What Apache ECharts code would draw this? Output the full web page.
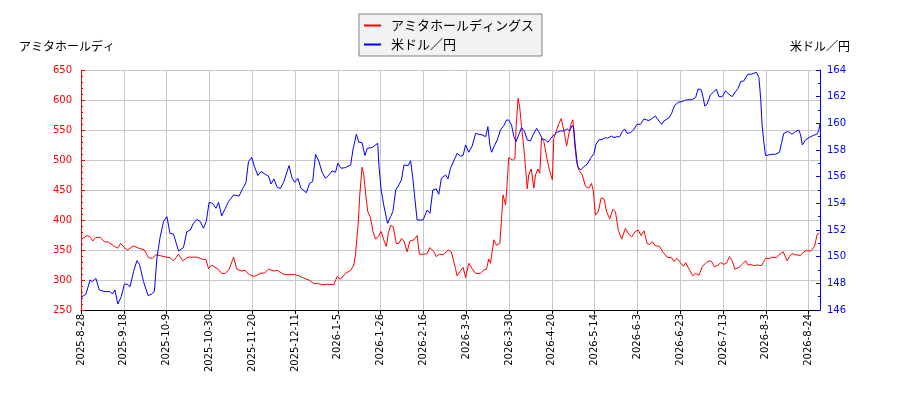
<!DOCTYPE html>
<html>
<head>
<meta charset="utf-8">
<script src="https://cdn.jsdelivr.net/npm/echarts@6/dist/echarts.min.js"></script>
<style>
  html, body { margin: 0; padding: 0; background: #fff; }
  #main { width: 900px; height: 400px; }
</style>
</head>
<body>
<div id="main"></div>
<script>
// x = trading-day index from 2025-8-28, one tick label every 15 trading days
const xTickLabels = ['2025-8-28', '2025-9-18', '2025-10-9', '2025-10-30', '2025-11-20', '2025-12-11',
    '2026-1-5', '2026-1-26', '2026-2-16', '2026-3-9', '2026-3-30', '2026-4-20', '2026-5-14',
    '2026-6-3', '2026-6-23', '2026-7-13', '2026-8-3', '2026-8-24']

const stockIdx = [0, 0.9, 2.1, 3.2, 4.1, 5.2, 6.7, 8.2, 9.7, 11.4, 12.9, 13.9, 15.2, 16.3, 18.4, 20.2, 22.2, 23.7, 25.0, 26.2,
    28.3, 30.1, 31.2, 32.4, 34.2, 35.6, 37.5, 40.6, 42.3, 43.8, 44.7, 45.8, 48.0, 49.3, 50.6, 51.9, 53.5, 54.6, 56.3, 57.6,
    58.9, 60.8, 62.8, 64.4, 65.7,
    66.4, 67.6, 68.8, 70.5, 71.6, 74.9, 76.4, 78.1, 79.9, 81.6, 83.2, 84.5, 86.3, 88.6, 89.8, 90.9, 92.7, 94.5, 95.6, 96.2,
    97.2, 97.7, 98.5, 99.1, 99.7, 100.5, 101.5, 102.3, 103.2, 104.4, 105.2, 106.1, 107.0, 107.7, 108.5, 109.4, 110.5, 111.4, 112.3, 113.2,
    114.3, 115.3, 116.7, 117.8, 118.6, 120.2, 121.3, 122.3, 123.7, 124.5, 125.6, 126.9, 128.7, 129.8, 131.3,
    131.8, 132.8, 133.9, 134.8, 135.9, 137.1, 138.3, 140.0, 141.2, 142.1, 142.9, 143.5, 144.1, 144.7, 145.6, 146.8, 147.4, 147.9, 148.8, 149.4,
    149.9, 151.2, 152.1, 152.5, 153.2, 153.8, 154.4, 154.9, 155.4, 155.8, 156.4, 156.9, 157.8, 158.7, 159.3, 160.1, 160.8, 161.4, 162.2, 163.4,
    164.3, 165.2, 165.7, 166.7, 167.5, 168.3, 169.2, 170.2, 171.0, 171.8, 172.4, 173.0, 173.7, 174.5, 175.7, 176.8, 178.0, 178.9, 179.5, 180.3,
    181.3, 182.3, 183.3, 184.2, 185.3, 186.4, 187.3, 188.3, 189.5, 190.8, 192.0, 193.0, 194.3, 195.3,
    196.3, 197.3, 198.4, 199.3, 200.2, 201.3, 202.8, 203.9, 205.4, 207.0, 207.8, 208.9, 210.1, 211.1, 211.9, 213.1, 214.4, 215.4, 216.6, 217.7,
    218.9, 220.1, 221.0, 222.0, 223.3, 224.2, 225.3, 226.2, 227.3, 228.2, 229.2, 230.6, 231.7, 232.9, 233.8, 234.7, 235.8, 237.0, 238.5, 239.9,
    241.1, 242.5, 243.7, 244.6, 246.1, 247.5, 248.3, 249.2, 250.4, 252.2, 253.3, 254.5, 255.7, 257.1, 258.0, 258.8]
const stockPrice = [368, 370, 374, 372, 365, 371, 371, 364, 363, 357, 353, 361, 354, 350, 357, 353, 350, 337, 336, 342,
    340, 338, 337, 332, 343, 332, 338, 338, 335, 334, 319, 325, 318, 311, 311, 318, 338, 318, 315, 316,
    309, 306, 311, 312, 318,
    319, 315, 316, 311, 309, 309, 307, 303, 300, 294, 294, 292, 293, 292, 306, 301, 311, 316, 325, 342,
    397, 442, 488, 475, 447, 414, 403, 381, 368, 374, 381, 367, 356, 378, 391, 389, 361, 361, 369, 365,
    347, 365, 367, 374, 343, 343, 344, 354, 347, 339, 343, 342, 350, 347, 318,
    307, 314, 321, 304, 328, 319, 311, 311, 317, 318, 335, 328, 347, 367, 358, 361, 403, 442, 425, 464,
    504, 500, 503, 556, 603, 586, 556, 558, 511, 486, 452, 475, 485, 453, 475, 485, 478, 536, 531, 500,
    481, 467, 536, 550, 561, 569, 550, 523, 544, 561, 567, 528, 497, 483, 475, 456, 453, 461, 450, 408,
    414, 437, 435, 414, 402, 418, 414, 383, 368, 386, 376, 372, 381, 383,
    374, 382, 361, 359, 364, 357, 356, 347, 338, 337, 331, 336, 329, 323, 329, 318, 307, 311, 308, 322,
    328, 332, 331, 322, 325, 329, 326, 328, 339, 332, 318, 321, 326, 332, 325, 326, 324, 325, 324, 336,
    336, 338, 337, 342, 347, 332, 339, 344, 342, 341, 347, 349, 348, 356, 376, 378]

const usdIdx = [0, 1.7, 3.2, 4.0, 5.2, 6.4, 8.4, 10.2, 11.0, 11.9, 12.9, 14.1, 15.2, 16.1, 17.2, 18.4, 19.6, 20.5, 21.9, 23.5,
    24.6, 25.7, 26.6, 27.7, 28.9, 30.1, 31.2, 32.4, 34.2, 35.9, 37.1, 38.3, 39.4, 40.6, 41.8, 42.9, 43.9, 44.9, 46.1, 47.3,
    48.2, 49.3, 50.6, 51.7, 53.5, 55.4, 56.6, 57.8, 58.7, 59.8, 60.8, 62.0, 63.1, 64.6, 65.7,
    66.6, 67.6, 68.8, 69.9, 71.1, 72.3, 72.9, 74.0, 74.9, 76.0, 77.1, 79.0, 80.1, 81.2, 82.2, 83.4, 84.5, 85.7, 86.9, 88.0,
    89.2, 90.0, 91.2, 92.7, 94.5, 95.3, 96.5, 97.4, 98.5, 99.5, 100.3, 102.0, 103.2, 104.0, 104.4, 105.2, 106.1, 107.1, 107.5, 108.5,
    109.3, 110.3, 111.4, 112.3, 113.2, 113.8, 114.7, 115.5, 116.3, 117.0, 117.8, 119.0, 119.9, 121.3, 122.3, 123.3, 124.5, 125.4, 126.3, 127.8,
    128.6, 129.5, 131.3,
    131.8, 133.0, 133.9, 134.8, 135.9, 137.1, 138.3, 139.4, 140.6, 141.8, 142.6, 143.3, 143.9, 144.7, 145.9, 147.0, 148.2, 149.1, 149.9, 150.9,
    151.7, 152.5, 153.4, 154.4, 155.4, 156.4, 157.5, 158.7, 159.7, 160.4, 161.7, 162.8, 163.7, 164.5, 165.7, 166.9, 168.0, 169.2, 170.4, 171.2,
    172.2, 172.7, 173.1, 173.7, 174.1, 175.1, 176.2, 177.4, 178.6, 179.8, 180.5, 181.5, 182.7, 183.8, 184.6, 185.9, 186.8, 187.9, 188.8, 189.7,
    190.5, 191.4, 192.6, 193.6, 194.9, 196.1,
    197.3, 199.0, 200.2, 201.3, 202.3, 203.5, 204.3, 206.1, 207.0, 208.0, 209.3, 210.7, 211.9, 214.2, 215.4, 216.3, 217.4, 218.1, 218.6, 219.4,
    220.6, 221.8, 222.7, 223.6, 224.7, 225.9, 227.1, 228.2, 229.4, 230.3, 231.2, 232.3, 232.9, 233.7, 234.7, 235.8, 236.7, 237.6, 238.2, 238.7,
    239.3, 239.9, 241.1, 242.2, 243.4, 244.8, 245.5, 246.3, 247.5, 248.3, 249.2, 250.4, 251.6, 252.2, 252.8, 253.9, 255.1, 256.5, 258.0, 258.6,
    259]
const usdRate = [146.95, 147.18, 148.25, 148.13, 148.38, 147.5, 147.38, 147.38, 147.2, 147.5, 146.45, 147.0, 147.93, 147.95, 147.75, 148.88, 149.7, 149.43, 148.13, 147.08,
    147.18, 147.38, 149.88, 151.43, 152.63, 153.0, 151.75, 151.7, 150.43, 150.68, 151.88, 152.0, 152.5, 152.8, 152.63, 152.13, 152.63, 154.08, 154.0, 153.63,
    154.08, 153.05, 153.63, 154.13, 154.63, 154.55, 155.08, 155.55, 157.13, 157.45, 156.75, 156.08, 156.38, 156.18, 156.05,
    155.45, 155.83, 155.18, 155.13, 155.63, 156.43, 156.83, 155.88, 155.58, 155.88, 155.13, 154.8, 155.5, 155.63, 157.68, 157.13, 156.33, 155.88, 156.13, 156.43,
    156.33, 157.0, 156.63, 156.68, 156.88, 158.0, 159.18, 158.58, 158.55, 157.58, 158.13, 158.18, 158.38, 158.5, 156.88, 155.0, 153.88, 152.83, 152.5, 153.0,
    153.38, 155.0, 155.38, 155.75, 156.88, 157.0, 156.83, 157.2, 155.88, 154.38, 152.75, 152.75, 152.75, 153.5, 153.25, 155.0, 155.08, 154.68, 155.88, 156.13,
    155.83, 156.63, 157.5,
    157.75, 157.55, 157.58, 158.38, 157.83, 158.3, 159.25, 159.18, 159.13, 159.0, 159.75, 158.38, 157.83, 158.25, 158.75, 159.5, 159.83, 160.25, 160.25, 159.88,
    159.0, 158.63, 159.13, 159.68, 159.43, 158.75, 158.68, 159.25, 159.63, 159.38, 158.83, 158.75, 158.58, 158.83, 159.13, 159.33, 159.43, 159.43, 159.58, 159.43,
    159.83, 159.63, 158.63, 157.38, 156.75, 156.5, 156.75, 156.93, 157.38, 157.75, 158.43, 158.75, 158.8, 158.93, 158.88, 159.05, 158.93, 159.0, 159.0, 159.38,
    159.58, 159.25, 159.3, 159.5, 159.93, 159.93,
    160.33, 160.2, 160.38, 160.55, 160.25, 159.93, 160.18, 160.43, 160.75, 161.33, 161.58, 161.63, 161.75, 161.78, 161.93, 162.58, 162.5, 161.88, 161.3, 161.43,
    162.13, 162.38, 162.55, 162.0, 162.0, 162.43, 162.18, 162.0, 162.38, 162.63, 163.13, 163.18, 163.25, 163.68, 163.68, 163.75, 163.83, 163.43, 161.88, 159.88,
    158.63, 157.58, 157.63, 157.68, 157.68, 157.83, 158.5, 159.25, 159.38, 159.33, 159.18, 159.38, 159.5, 159.13, 158.38, 158.75, 158.93, 159.08, 159.2, 159.5,
    160.0]

const zip = (xs, ys) => xs.map((x, i) => [x, ys[i]])

const font = 'DejaVu Sans, Noto Sans CJK JP, sans-serif'
const jpFont = 'Noto Sans CJK JP, DejaVu Sans, sans-serif'
const gridColor = '#c8c8c8'

const chart = echarts.init(document.getElementById('main'))

chart.setOption({
    animation: false,
    backgroundColor: '#fff',
    legend: {
        orient: 'vertical',
        left: 359,
        top: 14,
        padding: [5, 8, 5, 5],
        itemGap: 6,
        itemWidth: 17,
        itemHeight: 2,
        icon: 'rect',
        backgroundColor: '#f2f2f2',
        borderColor: '#808080',
        borderWidth: 1,
        borderRadius: 0,
        textStyle: {
            fontFamily: jpFont,
            fontSize: 13,
            color: '#000',
            padding: [0, 0, 0, 5],
        },
        data: ['アミタホールディングス', '米ドル／円'],
    },
    grid: {
        left: 81,
        right: 80,
        top: 70,
        bottom: 90,
    },
    xAxis: {
        type: 'value',
        min: 0,
        max: 259,
        interval: 15,
        axisLine: { lineStyle: { color: '#000', width: 1 } },
        axisTick: { show: true, length: 4, lineStyle: { color: '#000' } },
        axisLabel: {
            rotate: 90,
            fontFamily: font,
            fontSize: 10,
            color: '#000',
            margin: 4,
            showMaxLabel: false,
            formatter: v => (v % 15 === 0 ? xTickLabels[v / 15] : ''),
        },
        splitLine: { show: true, lineStyle: { color: gridColor, width: 1 } },
    },
    yAxis: [
        {
            type: 'value',
            min: 250,
            max: 650,
            interval: 50,
            name: 'アミタホールディ',
            nameLocation: 'end',
            nameGap: 18,
            nameTextStyle: {
                fontFamily: jpFont,
                fontSize: 12,
                color: '#000',
                align: 'center',
                padding: [0, 28, 0, 0],
            },
            axisLine: { show: true, lineStyle: { color: '#ff0000' } },
            axisTick: { show: true, inside: true, length: 4, lineStyle: { color: '#ff0000' } },
            minorTick: { show: true, splitNumber: 5, length: 2, lineStyle: { color: '#ff0000' } },
            axisLabel: { fontFamily: font, fontSize: 10, color: '#ff0000', margin: 9 },
            splitLine: { show: true, lineStyle: { color: gridColor, width: 1 } },
        },
        {
            type: 'value',
            min: 146,
            max: 164,
            interval: 2,
            name: '米ドル／円',
            nameLocation: 'end',
            nameGap: 18,
            nameTextStyle: {
                fontFamily: jpFont,
                fontSize: 12,
                color: '#000',
                align: 'center',
            },
            axisLine: { show: true, lineStyle: { color: '#0000ff' } },
            axisTick: { show: true, inside: true, length: 4, lineStyle: { color: '#0000ff' } },
            minorTick: { show: true, splitNumber: 2, length: 2, lineStyle: { color: '#0000ff' } },
            axisLabel: { fontFamily: font, fontSize: 10, color: '#0000ff', margin: 7 },
            splitLine: { show: false },
        },
    ],
    series: [
        {
            name: 'アミタホールディングス',
            type: 'line',
            yAxisIndex: 0,
            showSymbol: false,
            color: '#ff0000',
            lineStyle: { width: 1, color: '#ff0000' },
            data: zip(stockIdx, stockPrice),
        },
        {
            name: '米ドル／円',
            type: 'line',
            yAxisIndex: 1,
            showSymbol: false,
            color: '#0000ff',
            lineStyle: { width: 1, color: '#0000ff' },
            data: zip(usdIdx, usdRate),
        },
    ],
})
</script>
</body>
</html>
